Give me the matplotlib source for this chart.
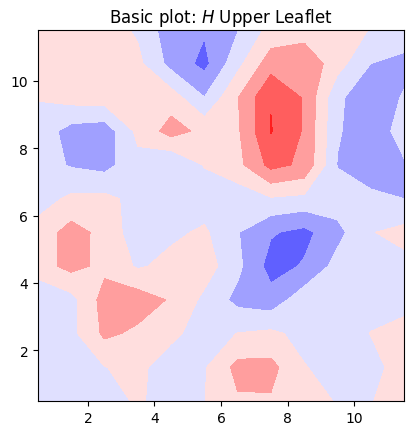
import numpy as np
import matplotlib
matplotlib.use("Agg")
import matplotlib.pyplot as plt

# bin centres of the 12 x 12 grid
x_bins = [0.5, 1.5, 2.5, 3.5, 4.5, 5.5, 6.5, 7.5, 8.5, 9.5, 10.5, 11.5]
y_bins = [0.5, 1.5, 2.5, 3.5, 4.5, 5.5, 6.5, 7.5, 8.5, 9.5, 10.5, 11.5]

# mean curvature H, upper leaflet (rows from top y=11.5 down to y=0.5)
h_upper = [
    [0.5, 0.5, 0.5, -0.15, -1.6, -1.9, -1.05, 0.33, 0.5, 0.3, -0.03, -0.4],
    [0.4, 0.5, 0.5, 0.26, -1.34, -2.3, -0.3, 1.55, 1.8, 0.4, -1.0, -1.3],
    [0.05, 0.4, 0.5, 0.45, 0.5, -0.98, 0.95, 2.95, 1.9, -0.8, -1.7, -0.9],
    [-0.4, -1.4, -1.6, 0.25, 1.4, 0.73, 0.85, 3.05, 1.9, -0.9, -1.6, -0.6],
    [-0.5, -1.1, -1.35, -0.3, -1.04, 0.05, 0.7, 2.3, 1.8, -1.05, -1.5, -1.1],
    [-0.45, 0.2, 0.25, -0.3, -0.5, -0.5, -0.6, -0.1, -0.25, -0.5, -0.8, -1.0],
    [0.4, 1.4, 0.69, -0.61, -0.2, 0.15, -0.95, -1.9, -2.3, -1.3, -0.05, 0.3],
    [0.6, 1.3, 0.76, -0.13, 0.3, 0.5, -0.75, -2.4, -1.9, -0.65, -0.4, -0.3],
    [-0.95, -0.35, 1.4, 1.5, 0.9, -0.23, -1.3, -1.6, -0.4, -0.4, -0.3, -0.3],
    [-1.04, -0.28, 1.2, 0.8, 0.3, -0.6, 0.03, 0.2, -0.3, -0.4, 0.02, 0.3],
    [-0.5, -0.4, -0.03, 0.3, -0.67, -0.1, 1.3, 1.3, 0.05, -0.4, -0.3, 0.4],
    [-0.6, -0.5, -0.3, 0.09, -0.3, -0.02, 0.88, 0.9, 0.3, -0.05, -0.05, 0.5],
]

levels = [-4, -3, -2, -1, 0, 1, 2, 3, 4]

Z = np.flipud(np.array(h_upper))

fig = plt.figure(figsize=(4.17, 4.35), dpi=100)
ax = fig.add_axes([38 / 417, 33 / 435, 366 / 417, 371 / 435])
ax.contourf(x_bins, y_bins, Z, levels=levels, cmap="bwr")
ax.set_xticks([2, 4, 6, 8, 10])
ax.set_yticks([2, 4, 6, 8, 10])
ax.set_title("Basic plot: $H$ Upper Leaflet")

fig.savefig("out.png", dpi=100)
